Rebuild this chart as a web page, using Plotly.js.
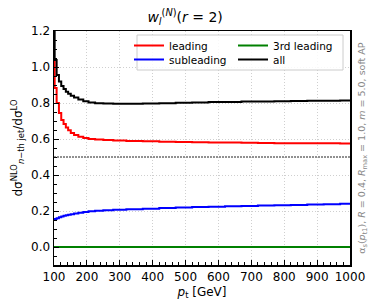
<!DOCTYPE html>
<html>
<head>
<meta charset="utf-8">
<script src="https://cdn.plot.ly/plotly-3.0.1.min.js"></script>
<style>html,body{margin:0;padding:0;background:#fff;}#chart{width:374px;height:308px;}</style>
</head>
<body>
<div id="chart"></div>
<script>
// bin edges in GeV
const binEdges = [100,102,108,115,122,129,136,143,151,161,174,189,205,225,250,280,320,370,420,470,520,570,620,670,720,770,820,870,920,970,1000];
const leading = [1.04,0.884,0.800,0.745,0.705,0.683,0.664,0.648,0.634,0.622,0.612,0.605,0.600,0.597,0.594,0.592,0.589,0.587,0.585,0.583,0.582,0.581,0.580,0.579,0.578,0.577,0.577,0.576,0.576,0.575];
const subleading = [0.150,0.156,0.160,0.165,0.169,0.173,0.176,0.179,0.182,0.186,0.190,0.194,0.198,0.201,0.204,0.207,0.210,0.213,0.216,0.219,0.222,0.224,0.226,0.228,0.230,0.232,0.234,0.236,0.238,0.240];
const thirdLeading = [0,0,0,0,0,0,0,0,0,0,0,0,0,0,0,0,0,0,0,0,0,0,0,0,0,0,0,0,0,0];
const allJets = [1.25,1.039,0.956,0.919,0.895,0.878,0.862,0.851,0.840,0.830,0.820,0.810,0.803,0.799,0.797,0.796,0.796,0.797,0.799,0.801,0.803,0.805,0.806,0.808,0.809,0.810,0.811,0.812,0.813,0.814];
const xTicks = [100,200,300,400,500,600,700,800,900,1000];
const yTicks = [0.0,0.2,0.4,0.6,0.8,1.0,1.2];
const refLine = 0.5;

function stepTrace(vals, name, color, legend){
  return {
    x: binEdges.slice(),
    y: vals.concat([vals[vals.length-1]]),
    type: 'scatter', mode: 'lines', name: name, legend: legend,
    line: {color: color, width: 2, shape: 'hv'}
  };
}

const traces = [
  stepTrace(leading, 'leading', '#ff0000', 'legend'),
  stepTrace(subleading, 'subleading', '#0000ff', 'legend2'),
  stepTrace(thirdLeading, '3rd leading', '#008000', 'legend3'),
  stepTrace(allJets, 'all', '#000000', 'legend4')
];

const font = 'DejaVu Sans, sans-serif';
const legFont = {family: font, size: 10.5, color: '#000'};
// plot area: x 54..350, y 31..265
const px = v => (v - 54) / 296;
const py = v => (265 - v) / 234;
function leg(xp, yp){
  return {orientation: 'v', x: px(xp), xanchor: 'left', y: py(yp), yanchor: 'top',
    bgcolor: 'rgba(0,0,0,0)', borderwidth: 0, font: legFont, itemwidth: 30, tracegroupgap: 0};
}
const layout = {
  width: 374, height: 308,
  margin: {l: 54, r: 24, t: 31, b: 43},
  paper_bgcolor: '#fff', plot_bgcolor: '#fff',
  font: {family: font, size: 12, color: '#000'},
  title: {text: '<i>w</i><sub><i>l</i></sub><sup>(<i>N</i>)</sup>(<i>r</i> = 2)', x: 0.495, xanchor: 'center', y: 0.945, yanchor: 'middle', font: {family: font, size: 14, color: '#000'}},
  showlegend: true,
  legend: leg(129, 31),
  legend2: leg(129, 45),
  legend3: leg(233, 31),
  legend4: leg(233, 45),
  xaxis: {
    range: [100, 1000], tickvals: xTicks, ticktext: xTicks.map(String),
    ticks: 'inside', ticklen: 5, tickwidth: 1, tickcolor: '#000',
    showline: true, linecolor: '#000', linewidth: 1.5, mirror: true,
    showgrid: true, gridcolor: '#cfcfcf', griddash: '1px,2px', gridwidth: 1,
    zeroline: false,
    minor: {dtick: 20, ticks: 'inside', ticklen: 3, tickcolor: '#000', showgrid: false},
    tickfont: {family: font, size: 12, color: '#000'},
    title: {text: '<i>p</i><sub>t</sub> [GeV]', standoff: 4, font: {family: font, size: 12, color: '#000'}}
  },
  yaxis: {
    range: [-0.1, 1.2], tickvals: yTicks, ticktext: yTicks.map(v => v.toFixed(1)),
    ticks: 'inside', ticklen: 5, tickwidth: 1, tickcolor: '#000',
    showline: true, linecolor: '#000', linewidth: 1.5, mirror: true,
    showgrid: true, gridcolor: '#cfcfcf', griddash: '1px,2px', gridwidth: 1,
    zeroline: false,
    minor: {dtick: 0.05, ticks: 'inside', ticklen: 3, tickcolor: '#000', showgrid: false},
    tickfont: {family: font, size: 12, color: '#000'},
    title: {text: 'dσ<sup>NLO</sup><sub><i>n</i>−th jet</sub>/dσ<sup>LO</sup>', standoff: 6, font: {family: font, size: 12, color: '#000'}}
  },
  shapes: [
    {type: 'line', xref: 'paper', x0: 0, x1: 1, yref: 'y', y0: refLine, y1: refLine, line: {color: '#222', width: 1, dash: '2px,1px'}},
    {type: 'rect', xref: 'paper', yref: 'paper', x0: px(137), x1: px(343), y0: py(70), y1: py(35), fillcolor: 'rgba(255,255,255,0.85)', line: {color: '#cccccc', width: 1}, layer: 'above'}
  ],
  annotations: [{
    text: 'α<sub>s</sub>(<i>p</i><sub>t1</sub>), <i>R</i> = 0.4, <i>R</i><sub>max</sub> = 1.0, <i>m</i> = 5.0, soft AP',
    xref: 'paper', yref: 'paper', x: 1.04, y: 0.5, xanchor: 'center', yanchor: 'middle',
    textangle: -90, showarrow: false, font: {family: font, size: 9.5, color: '#888'}
  }]
};

Plotly.newPlot('chart', traces, layout, {displayModeBar: false, staticPlot: true});
</script>
</body>
</html>
